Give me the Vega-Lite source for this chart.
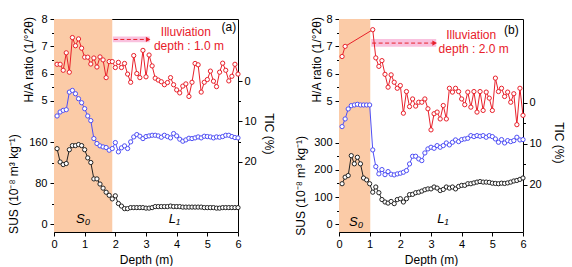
{
  "$schema": "https://vega.github.io/schema/vega-lite/v6.json",
  "background": "white",
  "padding": {"left": 6, "top": 12, "right": 0, "bottom": 0},
  "bounds": "flush",
  "spacing": 101,
  "config": {
    "view": {"stroke": "black", "strokeWidth": 1},
    "axis": {"domain": false, "grid": false, "tickColor": "black", "tickSize": 4, "labelFont": "Liberation Sans", "labelFontSize": 11, "labelColor": "black", "titleFont": "Liberation Sans", "titleFontSize": 12, "titleFontWeight": "normal", "titleColor": "black", "labelOverlap": false, "labelFlush": false}
  },
  "datasets": {
    "a_ha": [{"d":0.1,"v":6.34},{"d":0.2,"v":6.34},{"d":0.3,"v":6.12},{"d":0.4,"v":6.76},{"d":0.5,"v":6.05},{"d":0.6,"v":7.32},{"d":0.7,"v":7.02},{"d":0.8,"v":7.27},{"d":0.9,"v":6.93},{"d":1.0,"v":6.6},{"d":1.1,"v":6.6},{"d":1.2,"v":6.35},{"d":1.3,"v":6.57},{"d":1.4,"v":6.24},{"d":1.5,"v":6.61},{"d":1.6,"v":6.5},{"d":1.7,"v":5.85},{"d":1.8,"v":6.44},{"d":1.9,"v":6.44},{"d":2.0,"v":6.22},{"d":2.1,"v":6.41},{"d":2.2,"v":6.22},{"d":2.3,"v":6.37},{"d":2.4,"v":5.98},{"d":2.5,"v":5.68},{"d":2.6,"v":6.66},{"d":2.7,"v":6.0},{"d":2.8,"v":5.85},{"d":2.9,"v":6.85},{"d":3.0,"v":5.88},{"d":3.1,"v":6.68},{"d":3.2,"v":6.28},{"d":3.3,"v":5.83},{"d":3.4,"v":5.76},{"d":3.5,"v":5.7},{"d":3.6,"v":5.59},{"d":3.7,"v":5.67},{"d":3.8,"v":5.85},{"d":3.9,"v":5.59},{"d":4.0,"v":5.4},{"d":4.1,"v":5.29},{"d":4.2,"v":5.54},{"d":4.3,"v":5.62},{"d":4.4,"v":5.16},{"d":4.5,"v":5.68},{"d":4.6,"v":6.37},{"d":4.7,"v":6.32},{"d":4.8,"v":5.32},{"d":4.9,"v":5.68},{"d":5.0,"v":5.78},{"d":5.1,"v":6.09},{"d":5.2,"v":5.72},{"d":5.3,"v":5.52},{"d":5.4,"v":6.05},{"d":5.5,"v":6.38},{"d":5.6,"v":6.12},{"d":5.7,"v":5.73},{"d":5.8,"v":5.9},{"d":5.9,"v":6.34},{"d":6.0,"v":5.98}],
    "a_tic": [{"d":0.1,"v":8.64},{"d":0.2,"v":7.65},{"d":0.3,"v":7.24},{"d":0.4,"v":7.08},{"d":0.5,"v":2.72},{"d":0.6,"v":2.3},{"d":0.7,"v":3.13},{"d":0.8,"v":4.36},{"d":0.9,"v":5.35},{"d":1.0,"v":6.83},{"d":1.1,"v":8.64},{"d":1.2,"v":9.79},{"d":1.3,"v":14.24},{"d":1.4,"v":15.47},{"d":1.5,"v":16.05},{"d":1.6,"v":16.3},{"d":1.7,"v":16.46},{"d":1.8,"v":17.12},{"d":1.9,"v":16.71},{"d":2.0,"v":15.23},{"d":2.1,"v":17.53},{"d":2.2,"v":16.54},{"d":2.3,"v":16.05},{"d":2.4,"v":16.71},{"d":2.5,"v":15.06},{"d":2.6,"v":13.83},{"d":2.7,"v":13.25},{"d":2.8,"v":13.66},{"d":2.9,"v":14.24},{"d":3.0,"v":13.74},{"d":3.1,"v":13.58},{"d":3.2,"v":13.42},{"d":3.3,"v":13.42},{"d":3.4,"v":13.58},{"d":3.5,"v":13.91},{"d":3.6,"v":13.42},{"d":3.7,"v":13.74},{"d":3.8,"v":14.07},{"d":3.9,"v":13.0},{"d":4.0,"v":13.58},{"d":4.1,"v":14.4},{"d":4.2,"v":14.9},{"d":4.3,"v":14.57},{"d":4.4,"v":14.16},{"d":4.5,"v":14.24},{"d":4.6,"v":14.07},{"d":4.7,"v":13.83},{"d":4.8,"v":14.07},{"d":4.9,"v":13.66},{"d":5.0,"v":13.74},{"d":5.1,"v":13.83},{"d":5.2,"v":14.07},{"d":5.3,"v":13.83},{"d":5.4,"v":13.91},{"d":5.5,"v":13.74},{"d":5.6,"v":13.42},{"d":5.7,"v":13.42},{"d":5.8,"v":13.74},{"d":5.9,"v":13.99},{"d":6.0,"v":14.07}],
    "a_sus": [{"d":0.1,"v":147},{"d":0.2,"v":121},{"d":0.3,"v":116},{"d":0.4,"v":118},{"d":0.5,"v":145},{"d":0.6,"v":153},{"d":0.7,"v":153},{"d":0.8,"v":155},{"d":0.9,"v":153},{"d":1.0,"v":145},{"d":1.1,"v":129},{"d":1.2,"v":120},{"d":1.3,"v":88},{"d":1.4,"v":88},{"d":1.5,"v":78},{"d":1.6,"v":70},{"d":1.7,"v":62},{"d":1.8,"v":56},{"d":1.9,"v":49},{"d":2.0,"v":55},{"d":2.1,"v":40},{"d":2.2,"v":35},{"d":2.3,"v":30},{"d":2.4,"v":30},{"d":2.5,"v":32},{"d":2.6,"v":32},{"d":2.7,"v":32},{"d":2.8,"v":32},{"d":2.9,"v":32},{"d":3.0,"v":31},{"d":3.1,"v":31},{"d":3.2,"v":32},{"d":3.3,"v":34},{"d":3.4,"v":34},{"d":3.5,"v":34},{"d":3.6,"v":34},{"d":3.7,"v":34},{"d":3.8,"v":35},{"d":3.9,"v":34},{"d":4.0,"v":34},{"d":4.1,"v":34},{"d":4.2,"v":33},{"d":4.3,"v":33},{"d":4.4,"v":33},{"d":4.5,"v":33},{"d":4.6,"v":33},{"d":4.7,"v":33},{"d":4.8,"v":33},{"d":4.9,"v":32},{"d":5.0,"v":32},{"d":5.1,"v":32},{"d":5.2,"v":32},{"d":5.3,"v":31},{"d":5.4,"v":31},{"d":5.5,"v":32},{"d":5.6,"v":32},{"d":5.7,"v":32},{"d":5.8,"v":32},{"d":5.9,"v":32},{"d":6.0,"v":32}],
    "b_ha": [{"d":0.1,"v":6.63},{"d":0.2,"v":7.0},{"d":1.1,"v":7.61},{"d":1.2,"v":6.58},{"d":1.3,"v":6.27},{"d":1.4,"v":6.48},{"d":1.5,"v":5.98},{"d":1.6,"v":5.51},{"d":1.7,"v":5.96},{"d":1.8,"v":5.69},{"d":1.9,"v":5.47},{"d":2.0,"v":5.57},{"d":2.1,"v":4.56},{"d":2.2,"v":5.35},{"d":2.3,"v":4.8},{"d":2.4,"v":5.08},{"d":2.5,"v":4.82},{"d":2.6,"v":4.96},{"d":2.7,"v":4.96},{"d":2.8,"v":5.08},{"d":2.9,"v":4.72},{"d":3.0,"v":3.95},{"d":3.1,"v":4.54},{"d":3.2,"v":4.6},{"d":3.3,"v":4.35},{"d":3.4,"v":4.84},{"d":3.5,"v":4.35},{"d":3.6,"v":5.47},{"d":3.7,"v":5.33},{"d":3.8,"v":5.47},{"d":3.9,"v":5.35},{"d":4.0,"v":5.08},{"d":4.1,"v":4.87},{"d":4.2,"v":5.33},{"d":4.3,"v":4.78},{"d":4.4,"v":5.35},{"d":4.5,"v":4.6},{"d":4.6,"v":5.35},{"d":4.7,"v":4.66},{"d":4.8,"v":5.33},{"d":4.9,"v":5.11},{"d":5.0,"v":4.66},{"d":5.1,"v":5.84},{"d":5.2,"v":5.35},{"d":5.3,"v":5.47},{"d":5.4,"v":5.17},{"d":5.5,"v":5.33},{"d":5.6,"v":4.96},{"d":5.7,"v":5.27},{"d":5.8,"v":4.14},{"d":5.9,"v":5.47},{"d":6.0,"v":4.48}],
    "b_tic": [{"d":0.1,"v":5.77},{"d":0.2,"v":3.9},{"d":0.3,"v":1.46},{"d":0.4,"v":0.65},{"d":0.5,"v":0.49},{"d":0.6,"v":0.33},{"d":0.7,"v":0.49},{"d":0.8,"v":0.49},{"d":0.9,"v":0.49},{"d":1.0,"v":0.49},{"d":1.1,"v":11.46},{"d":1.2,"v":15.53},{"d":1.3,"v":17.3},{"d":1.4,"v":16.26},{"d":1.5,"v":17.5},{"d":1.6,"v":16.75},{"d":1.7,"v":17.4},{"d":1.8,"v":17.56},{"d":1.9,"v":17.32},{"d":2.0,"v":17.15},{"d":2.1,"v":16.91},{"d":2.2,"v":16.5},{"d":2.3,"v":14.88},{"d":2.4,"v":13.01},{"d":2.5,"v":13.01},{"d":2.6,"v":13.66},{"d":2.7,"v":14.07},{"d":2.8,"v":12.2},{"d":2.9,"v":11.22},{"d":3.0,"v":10.81},{"d":3.1,"v":11.06},{"d":3.2,"v":10.41},{"d":3.3,"v":10.81},{"d":3.4,"v":10.41},{"d":3.5,"v":9.76},{"d":3.6,"v":10.24},{"d":3.7,"v":9.59},{"d":3.8,"v":9.02},{"d":3.9,"v":9.43},{"d":4.0,"v":8.94},{"d":4.1,"v":8.78},{"d":4.2,"v":8.62},{"d":4.3,"v":7.97},{"d":4.4,"v":8.21},{"d":4.5,"v":7.97},{"d":4.6,"v":8.13},{"d":4.7,"v":7.97},{"d":4.8,"v":8.37},{"d":4.9,"v":7.97},{"d":5.0,"v":8.21},{"d":5.1,"v":8.78},{"d":5.2,"v":9.59},{"d":5.3,"v":8.94},{"d":5.4,"v":9.76},{"d":5.5,"v":9.19},{"d":5.6,"v":9.43},{"d":5.7,"v":9.19},{"d":5.8,"v":8.37},{"d":5.9,"v":9.02},{"d":6.0,"v":8.94}],
    "b_sus": [{"d":0.1,"v":149},{"d":0.2,"v":173},{"d":0.3,"v":179},{"d":0.4,"v":252},{"d":0.5,"v":222},{"d":0.6,"v":246},{"d":0.7,"v":222},{"d":0.8,"v":170},{"d":0.9,"v":163},{"d":1.0,"v":149},{"d":1.1,"v":118},{"d":1.2,"v":137},{"d":1.3,"v":116},{"d":1.4,"v":91},{"d":1.5,"v":82},{"d":1.6,"v":78},{"d":1.7,"v":84},{"d":1.8,"v":76},{"d":1.9,"v":91},{"d":2.0,"v":94},{"d":2.1,"v":82},{"d":2.2,"v":94},{"d":2.3,"v":109},{"d":2.4,"v":110},{"d":2.5,"v":116},{"d":2.6,"v":118},{"d":2.7,"v":122},{"d":2.8,"v":127},{"d":2.9,"v":130},{"d":3.0,"v":130},{"d":3.1,"v":137},{"d":3.2,"v":133},{"d":3.3,"v":124},{"d":3.4,"v":128},{"d":3.5,"v":137},{"d":3.6,"v":133},{"d":3.7,"v":137},{"d":3.8,"v":130},{"d":3.9,"v":139},{"d":4.0,"v":143},{"d":4.1,"v":143},{"d":4.2,"v":149},{"d":4.3,"v":149},{"d":4.4,"v":152},{"d":4.5,"v":155},{"d":4.6,"v":157},{"d":4.7,"v":155},{"d":4.8,"v":155},{"d":4.9,"v":154},{"d":5.0,"v":151},{"d":5.1,"v":150},{"d":5.2,"v":149},{"d":5.3,"v":151},{"d":5.4,"v":150},{"d":5.5,"v":152},{"d":5.6,"v":155},{"d":5.7,"v":159},{"d":5.8,"v":161},{"d":5.9,"v":165},{"d":6.0,"v":170}]
  },
  "hconcat": [
    {
      "width": 184, "height": 213,
      "encoding": {"x": {"field": "d", "type": "quantitative", "scale": {"domain": [0, 6], "nice": false, "zero": false}, "axis": {"values": [0,0.5,1,1.5,2,2.5,3,3.5,4,4.5,5,5.5,6], "format": "d", "labelExpr": "datum.value % 1 === 0 ? datum.label : ''", "tickSize": {"condition": {"test": "datum.value % 1 === 0", "value": 4}, "value": 2.5}, "labelPadding": 2, "title": "Depth (m)", "titleX": 92, "titleY": 27, "titleBaseline": "middle", "titleAlign": "center"}}},
      "layer": [
        {"data": {"values": [{"d": 0, "d2": 1.9}]}, "mark": {"type": "rect", "color": "#FBCBA7"}, "encoding": {"x2": {"field": "d2"}}},
        {
          "encoding": {"y": {"field": "v", "type": "quantitative", "scale": {"domain": [0.19, 8], "nice": false, "zero": false}, "axis": {"orient": "left", "values": [5,5.5,6,6.5,7,7.5,8], "labelExpr": "datum.value % 1 === 0 ? datum.label : ''", "tickSize": {"condition": {"test": "datum.value % 1 === 0", "value": 4}, "value": 2.5}, "labelPadding": 3, "title": "H/A ratio (1/°2θ)", "titleX": -25.7, "titleY": 40.3, "titleAngle": 270, "titleAlign": "center", "titleBaseline": "middle"}}},
          "layer": [
            {"data": {"values": [{"d": 1.92, "d2": 3.12, "v": 7.15, "v2": 7.36}]}, "mark": {"type": "rect", "color": "#F9C1DE"}, "encoding": {"x2": {"field": "d2"}, "y2": {"field": "v2"}}},
            {"data": {"values": [{"d": 1.95, "d2": 3.03, "v": 7.25}]}, "mark": {"type": "rule", "color": "#E8202A", "strokeWidth": 1, "strokeDash": [4, 2.5]}, "encoding": {"x2": {"field": "d2"}}},
            {"data": {"values": [{"d": 3.07, "v": 7.25}]}, "mark": {"type": "point", "shape": "triangle-right", "filled": true, "color": "#E8202A", "size": 28, "opacity": 1}, "encoding": {}},
            {"data": {"name": "a_ha"}, "mark": {"type": "line", "color": "#E8202A", "strokeWidth": 1}, "encoding": {}},
            {"data": {"name": "a_ha"}, "mark": {"type": "point", "shape": "circle", "filled": true, "fill": "white", "stroke": "#E8202A", "strokeWidth": 1, "size": 18, "opacity": 1}, "encoding": {}},
            {"data": {"values": [{"d": 5.7, "v": 7.7, "t": "(a)", "c": "black"}, {"d": 4.3, "v": 7.53, "t": "Illuviation", "c": "#E8202A"}, {"d": 4.4, "v": 7.02, "t": "depth : 1.0 m", "c": "#E8202A"}]}, "mark": {"type": "text", "font": "Liberation Sans", "fontSize": 12, "align": "center", "baseline": "middle"}, "encoding": {"text": {"field": "t"}, "color": {"field": "c", "type": "nominal", "scale": null}}}
          ]
        },
        {
          "encoding": {"y": {"field": "v", "type": "quantitative", "scale": {"domain": [-15.6, 400], "nice": false, "zero": false}, "axis": {"orient": "left", "values": [0,40,80,120,160], "labelExpr": "datum.value % 80 === 0 ? datum.label : ''", "tickSize": {"condition": {"test": "datum.value % 80 === 0", "value": 4}, "value": 2.5}, "labelPadding": 3, "title": "SUS (10⁻⁸ m³ kg⁻¹)", "titleX": -41, "titleY": 164.5, "titleAngle": 270, "titleAlign": "center", "titleBaseline": "middle"}}},
          "layer": [
            {"data": {"name": "a_sus"}, "mark": {"type": "line", "color": "#222222", "strokeWidth": 1}, "encoding": {}},
            {"data": {"name": "a_sus"}, "mark": {"type": "point", "shape": "circle", "filled": true, "fill": "white", "stroke": "#222222", "strokeWidth": 1, "size": 18, "opacity": 1}, "encoding": {}},
            {"data": {"values": [{"d": 0.95, "v": 10, "t": "S₀"}, {"d": 3.93, "v": 10, "t": "L₁"}]}, "mark": {"type": "text", "font": "Liberation Sans", "fontSize": 13, "fontStyle": "italic", "align": "center", "baseline": "middle", "color": "black"}, "encoding": {"text": {"field": "t"}}}
          ]
        },
        {
          "encoding": {"y": {"field": "v", "type": "quantitative", "scale": {"domain": [-15.4, 37.4], "reverse": true, "nice": false, "zero": false}, "axis": {"orient": "right", "values": [0,5,10,15,20], "labelExpr": "datum.value % 10 === 0 ? datum.label : ''", "tickSize": {"condition": {"test": "datum.value % 10 === 0", "value": 4}, "value": 2.5}, "labelPadding": 2, "title": "TIC (%)", "titleX": 30.3, "titleY": 114.3, "titleAngle": 90, "titleAlign": "center", "titleBaseline": "middle"}}},
          "layer": [
            {"data": {"name": "a_tic"}, "mark": {"type": "line", "color": "#4F4FF5", "strokeWidth": 1}, "encoding": {}},
            {"data": {"name": "a_tic"}, "mark": {"type": "point", "shape": "circle", "filled": true, "fill": "white", "stroke": "#4F4FF5", "strokeWidth": 1, "size": 18, "opacity": 1}, "encoding": {}}
          ]
        }
      ],
      "resolve": {"scale": {"y": "independent"}, "axis": {"y": "independent"}}
    },
    {
      "width": 184, "height": 213,
      "encoding": {"x": {"field": "d", "type": "quantitative", "scale": {"domain": [0, 6], "nice": false, "zero": false}, "axis": {"values": [0,0.5,1,1.5,2,2.5,3,3.5,4,4.5,5,5.5,6], "format": "d", "labelExpr": "datum.value % 1 === 0 ? datum.label : ''", "tickSize": {"condition": {"test": "datum.value % 1 === 0", "value": 4}, "value": 2.5}, "labelPadding": 2, "title": "Depth (m)", "titleX": 92, "titleY": 27, "titleBaseline": "middle", "titleAlign": "center"}}},
      "layer": [
        {"data": {"values": [{"d": 0, "d2": 1.02}]}, "mark": {"type": "rect", "color": "#FBCBA7"}, "encoding": {"x2": {"field": "d2"}}},
        {
          "encoding": {"y": {"field": "v", "type": "quantitative", "scale": {"domain": [0.22, 8], "nice": false, "zero": false}, "axis": {"orient": "left", "values": [5,5.5,6,6.5,7,7.5,8], "labelExpr": "datum.value % 1 === 0 ? datum.label : ''", "tickSize": {"condition": {"test": "datum.value % 1 === 0", "value": 4}, "value": 2.5}, "labelPadding": 3, "title": "H/A ratio (1/°2θ)", "titleX": -22.7, "titleY": 40.3, "titleAngle": 270, "titleAlign": "center", "titleBaseline": "middle"}}},
          "layer": [
            {"data": {"values": [{"d": 1.05, "d2": 3.17, "v": 6.99, "v2": 7.27}]}, "mark": {"type": "rect", "color": "#F9C1DE"}, "encoding": {"x2": {"field": "d2"}, "y2": {"field": "v2"}}},
            {"data": {"values": [{"d": 1.08, "d2": 3.08, "v": 7.12}]}, "mark": {"type": "rule", "color": "#E8202A", "strokeWidth": 1, "strokeDash": [4, 2.5]}, "encoding": {"x2": {"field": "d2"}}},
            {"data": {"values": [{"d": 3.12, "v": 7.12}]}, "mark": {"type": "point", "shape": "triangle-right", "filled": true, "color": "#E8202A", "size": 28, "opacity": 1}, "encoding": {}},
            {"data": {"name": "b_ha"}, "mark": {"type": "line", "color": "#E8202A", "strokeWidth": 1}, "encoding": {}},
            {"data": {"name": "b_ha"}, "mark": {"type": "point", "shape": "circle", "filled": true, "fill": "white", "stroke": "#E8202A", "strokeWidth": 1, "size": 18, "opacity": 1}, "encoding": {}},
            {"data": {"values": [{"d": 5.62, "v": 7.59, "t": "(b)", "c": "black"}, {"d": 4.31, "v": 7.43, "t": "Illuviation", "c": "#E8202A"}, {"d": 4.39, "v": 6.91, "t": "depth : 2.0 m", "c": "#E8202A"}]}, "mark": {"type": "text", "font": "Liberation Sans", "fontSize": 12, "align": "center", "baseline": "middle"}, "encoding": {"text": {"field": "t"}, "color": {"field": "c", "type": "nominal", "scale": null}}}
          ]
        },
        {
          "encoding": {"y": {"field": "v", "type": "quantitative", "scale": {"domain": [-28, 753], "nice": false, "zero": false}, "axis": {"orient": "left", "values": [0,50,100,150,200,250,300], "labelExpr": "datum.value % 100 === 0 ? datum.label : ''", "tickSize": {"condition": {"test": "datum.value % 100 === 0", "value": 4}, "value": 2.5}, "labelPadding": 3, "title": "SUS (10⁻⁸ m³ kg⁻¹)", "titleX": -38.7, "titleY": 166.3, "titleAngle": 270, "titleAlign": "center", "titleBaseline": "middle"}}},
          "layer": [
            {"data": {"name": "b_sus"}, "mark": {"type": "line", "color": "#222222", "strokeWidth": 1}, "encoding": {}},
            {"data": {"name": "b_sus"}, "mark": {"type": "point", "shape": "circle", "filled": true, "fill": "white", "stroke": "#222222", "strokeWidth": 1, "size": 18, "opacity": 1}, "encoding": {}},
            {"data": {"values": [{"d": 0.56, "v": 8, "t": "S₀"}, {"d": 3.39, "v": 19, "t": "L₁"}]}, "mark": {"type": "text", "font": "Liberation Sans", "fontSize": 13, "fontStyle": "italic", "align": "center", "baseline": "middle", "color": "black"}, "encoding": {"text": {"field": "t"}}}
          ]
        },
        {
          "encoding": {"y": {"field": "v", "type": "quantitative", "scale": {"domain": [-20.5, 31.5], "reverse": true, "nice": false, "zero": false}, "axis": {"orient": "right", "values": [0,5,10,15,20], "labelExpr": "datum.value % 10 === 0 ? datum.label : ''", "tickSize": {"condition": {"test": "datum.value % 10 === 0", "value": 4}, "value": 2.5}, "labelPadding": 2, "title": "TIC (%)", "titleX": 35.3, "titleY": 123.3, "titleAngle": 90, "titleAlign": "center", "titleBaseline": "middle"}}},
          "layer": [
            {"data": {"name": "b_tic"}, "mark": {"type": "line", "color": "#4F4FF5", "strokeWidth": 1}, "encoding": {}},
            {"data": {"name": "b_tic"}, "mark": {"type": "point", "shape": "circle", "filled": true, "fill": "white", "stroke": "#4F4FF5", "strokeWidth": 1, "size": 18, "opacity": 1}, "encoding": {}}
          ]
        }
      ],
      "resolve": {"scale": {"y": "independent"}, "axis": {"y": "independent"}}
    }
  ]
}
